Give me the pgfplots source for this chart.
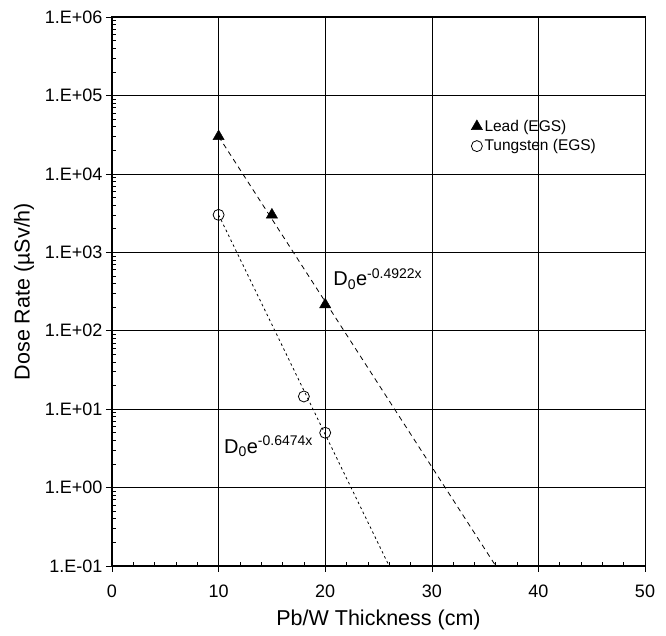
\documentclass[border=0pt]{standalone}
\usepackage{fontspec}
\setmainfont{Liberation Sans}
\usepackage{pgfplots}
\pgfplotsset{compat=1.18}
\pgfplotsset{markleg/.style={legend image code/.code={%
  \draw[mark repeat=2,mark phase=2,##1] plot coordinates {(0pt,0pt) (3pt,0pt) (6pt,0pt)};}}}

\begin{document}
\begin{tikzpicture}
\begin{axis}[
  scale only axis, width=533pt, height=549pt,
  xmin=0, xmax=50, ymode=log, ymin=0.1, ymax=1e6,
  xtick={0,10,...,50}, minor x tick num=4,
  ytick={0.1,1,10,100,1000,10000,100000,1000000},
  yticklabels={1.E-01,1.E+00,1.E+01,1.E+02,1.E+03,1.E+04,1.E+05,1.E+06},
  /pgf/number format/assume math mode=true,
  tick label style={font=\fontsize{18}{21}\selectfont},
  xticklabel style={yshift=-9pt},
  label style={font=\fontsize{21.5}{25}\selectfont},
  xlabel style={yshift=-6pt},
  ylabel style={yshift=4pt},
  xlabel={Pb/W Thickness (cm)},
  ylabel={Dose Rate (µSv/h)},
  grid=major, major grid style={black, line width=0.6pt},
  axis line style={line width=1pt},
  tick style={black, line width=0.6pt},
  tick pos=left,
  tick align=outside, major tick length=6pt, minor tick length=-4pt,
  legend style={at={(axis description cs:0.668,0.82)}, anchor=north west,
    draw=none, fill=none, font=\fontsize{15.5}{18}\selectfont, row sep=3pt},
  legend cell align=left,
]
\addplot[only marks, mark=triangle*, mark size=6.5pt, black, markleg]
  coordinates {(10,30000) (15,3000) (20,215)};
\addlegendentry{Lead (EGS)}
\addplot[only marks, mark=o, mark size=5.5pt, black, thick, markleg]
  coordinates {(10,3000) (18,14.5) (20,5)};
\addlegendentry{Tungsten (EGS)}
\addplot[black, line width=0.8pt, dash pattern=on 5pt off 4pt, forget plot]
  coordinates {(10,30000) (36,0.1)};
\addplot[black, line width=0.8pt, dash pattern=on 2.5pt off 3pt, forget plot]
  coordinates {(10,3000) (26,0.1)};
\node[anchor=base west, font=\fontsize{20}{24}\selectfont, inner sep=0pt]
  at (axis cs:20.75,372) {D\textsubscript{0}e\textsuperscript{-0.4922x}};
\node[anchor=base west, font=\fontsize{20}{24}\selectfont, inner sep=0pt]
  at (axis cs:10.5,2.75) {D\textsubscript{0}e\textsuperscript{-0.6474x}};
\end{axis}
\path ([shift={(-112pt,-70pt)}]current axis.south west) rectangle ([shift={(21pt,17pt)}]current axis.north east);
\end{tikzpicture}
\end{document}
